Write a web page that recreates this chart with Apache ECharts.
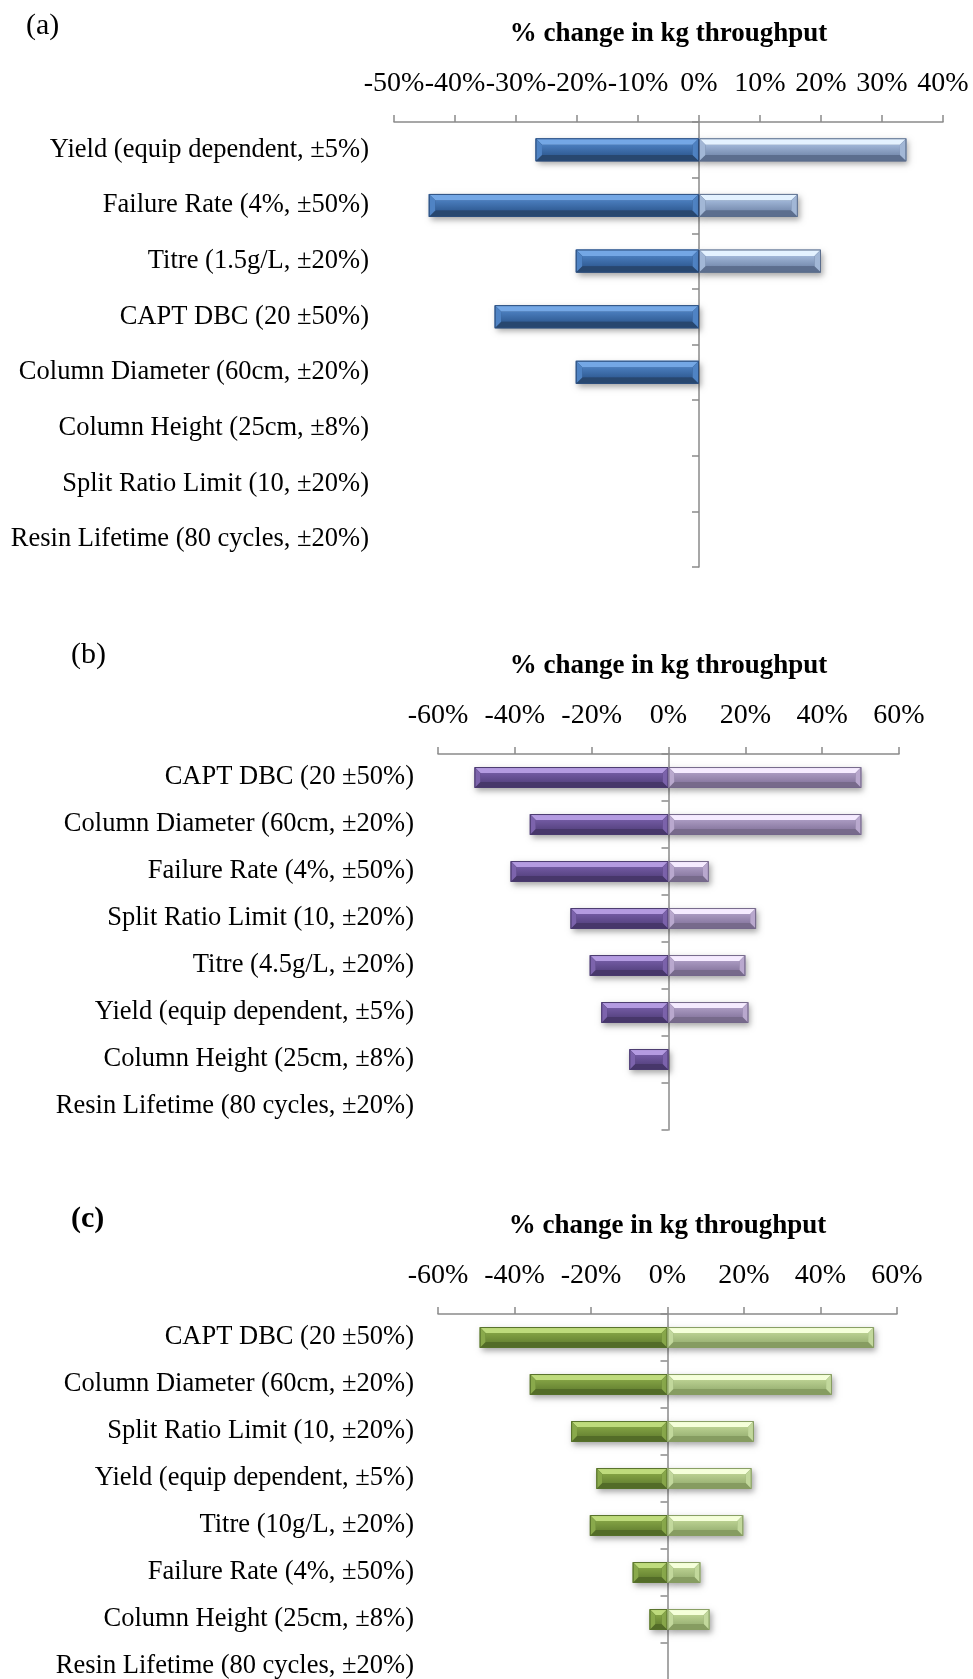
<!DOCTYPE html>
<html>
<head>
<meta charset="utf-8">
<script src="https://cdn.jsdelivr.net/npm/echarts@6/dist/echarts.min.js"></script>
<style>
  html, body { margin: 0; padding: 0; background: #ffffff; overflow: hidden; }
  #chart { width: 973px; height: 1700px; }
</style>
</head>
<body>
<div id="chart"></div>
<script>
// ---- (a) Titre 1.5 g/L ----
const catsA = [
  'Yield (equip dependent, ±5%)',
  'Failure Rate (4%, ±50%)',
  'Titre (1.5g/L, ±20%)',
  'CAPT DBC (20 ±50%)',
  'Column Diameter (60cm, ±20%)',
  'Column Height (25cm, ±8%)',
  'Split Ratio Limit (10, ±20%)',
  'Resin Lifetime (80 cycles, ±20%)'
];
const lowA  = [-26.8, -44.3, -20.2, -33.5, -20.2, 0, 0, 0];
const highA = [34.0, 16.2, 20.0, 0, 0, 0, 0, 0];

// ---- (b) Titre 4.5 g/L ----
const catsB = [
  'CAPT DBC (20 ±50%)',
  'Column Diameter (60cm, ±20%)',
  'Failure Rate (4%, ±50%)',
  'Split Ratio Limit (10, ±20%)',
  'Titre (4.5g/L, ±20%)',
  'Yield (equip dependent, ±5%)',
  'Column Height (25cm, ±8%)',
  'Resin Lifetime (80 cycles, ±20%)'
];
const lowB  = [-50.5, -36.1, -41.1, -25.5, -20.5, -17.5, -10.2, 0];
const highB = [50.2, 50.2, 10.5, 22.8, 20.0, 20.8, 0, 0];

// ---- (c) Titre 10 g/L ----
const catsC = [
  'CAPT DBC (20 ±50%)',
  'Column Diameter (60cm, ±20%)',
  'Split Ratio Limit (10, ±20%)',
  'Yield (equip dependent, ±5%)',
  'Titre (10g/L, ±20%)',
  'Failure Rate (4%, ±50%)',
  'Column Height (25cm, ±8%)',
  'Resin Lifetime (80 cycles, ±20%)'
];
const lowC  = [-49.1, -36.0, -25.2, -18.6, -20.3, -9.1, -4.7, 0];
const highC = [54.0, 43.0, 22.6, 22.0, 19.8, 8.6, 11.0, 0];

const axisTitle = '% change in kg throughput';
const panelLabels = ['(a)', '(b)', '(c)'];

const SERIF = '"Liberation Serif", "Times New Roman", serif';
const AXIS_GREY = '#8a8a8a';

// bevelled bar palettes
const PAL = {
  blueLow:    { top: '#74a7e5', bottom: '#28476f', side: '#4f83c4', face: ['#4a7dbd', '#325e97'], edge: '#2c4d7c' },
  blueHigh:   { top: '#e4f2ff', bottom: '#5c6e8e', side: '#a2b7d6', face: ['#a0b6d7', '#7a8fb2'], edge: '#5b6d8c' },
  purpleLow:  { top: '#b49be1', bottom: '#47376a', side: '#7c63ac', face: ['#725aa2', '#594584'], edge: '#4a3a6e' },
  purpleHigh: { top: '#f5ebff', bottom: '#776a8b', side: '#b9a8ce', face: ['#aa9ac1', '#8b7ba3'], edge: '#74688a' },
  greenLow:   { top: '#bedb7c', bottom: '#536c28', side: '#89a94b', face: ['#83a244', '#698634'], edge: '#56702b' },
  greenHigh:  { top: '#f5ffda', bottom: '#869c61', side: '#c2d89c', face: ['#bad091', '#9db577'], edge: '#869c62' }
};

function bevelRenderer(pal, hRatio) {
  return function (params, api) {
    const v = api.value(0);
    const idx = api.value(1);
    if (!v) return null;
    const p0 = api.coord([0, idx]);
    const p1 = api.coord([v, idx]);
    const band = api.size([0, 1])[1];
    const h = band * hRatio;
    const xa = Math.min(p0[0], p1[0]);
    const xb = Math.max(p0[0], p1[0]);
    const yt = p0[1] - h / 2;
    const yb = p0[1] + h / 2;
    const w = xb - xa;
    const b = Math.min(h * 0.28, w / 2);
    return {
      type: 'group',
      children: [
        { type: 'rect', shape: { x: xa, y: yt, width: w, height: h },
          style: { fill: pal.edge, shadowColor: 'rgba(0,0,0,0.35)', shadowBlur: 6, shadowOffsetX: 2, shadowOffsetY: 3 } },
        { type: 'rect', shape: { x: xa + b, y: yt + b, width: Math.max(w - 2 * b, 0), height: h - 2 * b },
          style: { fill: new echarts.graphic.LinearGradient(0, 0, 0, 1, [
            { offset: 0, color: pal.face[0] }, { offset: 1, color: pal.face[1] }]) } },
        { type: 'polygon', shape: { points: [[xa, yt], [xb, yt], [xb - b, yt + b], [xa + b, yt + b]] },
          style: { fill: pal.top } },
        { type: 'polygon', shape: { points: [[xa, yb], [xb, yb], [xb - b, yb - b], [xa + b, yb - b]] },
          style: { fill: pal.bottom } },
        { type: 'polygon', shape: { points: [[xa, yt], [xa + b, yt + b], [xa + b, yb - b], [xa, yb]] },
          style: { fill: pal.side } },
        { type: 'polygon', shape: { points: [[xb, yt], [xb - b, yt + b], [xb - b, yb - b], [xb, yb]] },
          style: { fill: pal.side } },
        { type: 'rect', shape: { x: xa + 0.5, y: yt + 0.5, width: w - 1, height: h - 1 },
          style: { fill: 'none', stroke: pal.edge, lineWidth: 1 } }
      ]
    };
  };
}

// panel layout: grid box, axis range, label margin
const panels = [
  { cats: catsA, low: lowA, high: highA, min: -50, max: 40, interval: 10,
    grid: { left: 394, top: 122, width: 549, height: 445 }, labelGap: 25, hRatio: 0.415,
    pal: [PAL.blueLow, PAL.blueHigh] },
  { cats: catsB, low: lowB, high: highB, min: -60, max: 60, interval: 20,
    grid: { left: 438, top: 754, width: 461, height: 376 }, labelGap: 24, hRatio: 0.445,
    pal: [PAL.purpleLow, PAL.purpleHigh] },
  { cats: catsC, low: lowC, high: highC, min: -60, max: 60, interval: 20,
    grid: { left: 438, top: 1314, width: 459, height: 376 }, labelGap: 24, hRatio: 0.445,
    pal: [PAL.greenLow, PAL.greenHigh] }
];

const option = {
  backgroundColor: '#ffffff',
  animation: false,
  textStyle: { fontFamily: SERIF },
  grid: [], xAxis: [], yAxis: [], series: [],
  graphic: [
    { type: 'text', left: 26, top: 11, style: { text: panelLabels[0], font: '30px ' + SERIF, fill: '#000' } },
    { type: 'text', left: 71, top: 640, style: { text: panelLabels[1], font: '30px ' + SERIF, fill: '#000' } },
    { type: 'text', left: 71, top: 1204, style: { text: panelLabels[2], font: 'bold 30px ' + SERIF, fill: '#000' } }
  ]
};

panels.forEach(function (p, k) {
  option.grid.push(Object.assign({ containLabel: false }, p.grid));
  option.xAxis.push({
    type: 'value', gridIndex: k, position: 'top', min: p.min, max: p.max, interval: p.interval,
    name: axisTitle, nameLocation: 'middle', nameGap: 74,
    nameTextStyle: { fontFamily: SERIF, fontWeight: 'bold', fontSize: 27, color: '#000' },
    axisLine: { show: true, onZero: false, lineStyle: { color: AXIS_GREY, width: 1.5 } },
    axisTick: { show: true, length: 7, lineStyle: { color: AXIS_GREY, width: 1.5 } },
    splitLine: { show: false },
    axisLabel: { formatter: '{value}%', fontFamily: SERIF, fontSize: 28, color: '#000', margin: 24 }
  });
  // category labels at the left edge
  option.yAxis.push({
    type: 'category', gridIndex: k, data: p.cats, inverse: true, position: 'left',
    axisLine: { show: false, onZero: false }, axisTick: { show: false },
    axisLabel: { fontFamily: SERIF, fontSize: 26.5, color: '#000', margin: p.labelGap }
  });
  // zero line with category ticks
  option.yAxis.push({
    type: 'category', gridIndex: k, data: p.cats, inverse: true, position: 'left',
    axisLine: { show: true, onZero: true, lineStyle: { color: AXIS_GREY, width: 1.5 } },
    axisTick: { show: true, length: 7, lineStyle: { color: AXIS_GREY, width: 1.5 } },
    axisLabel: { show: false }
  });
  const yIdx = k * 2;
  option.series.push({
    type: 'custom', xAxisIndex: k, yAxisIndex: yIdx, z: 3,
    renderItem: bevelRenderer(p.pal[0], p.hRatio),
    encode: { x: 0, y: 1 },
    data: p.low.map(function (v, i) { return [v, i]; })
  });
  option.series.push({
    type: 'custom', xAxisIndex: k, yAxisIndex: yIdx, z: 3,
    renderItem: bevelRenderer(p.pal[1], p.hRatio),
    encode: { x: 0, y: 1 },
    data: p.high.map(function (v, i) { return [v, i]; })
  });
});

const chart = echarts.init(document.getElementById('chart'), null, { renderer: 'canvas' });
chart.setOption(option);
</script>
</body>
</html>
